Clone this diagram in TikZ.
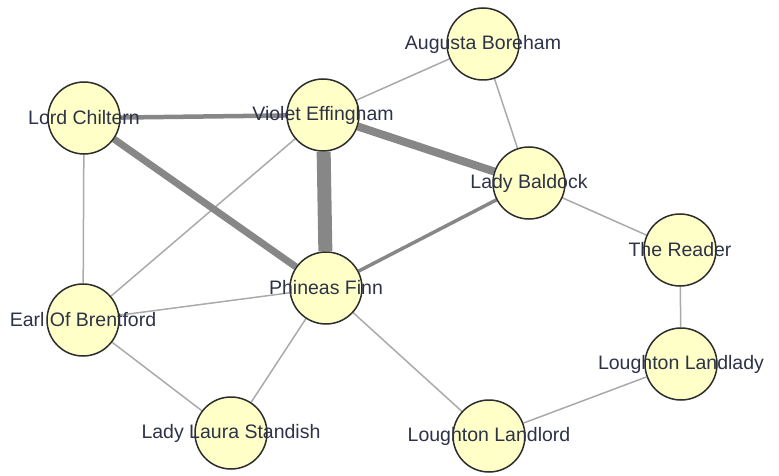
\documentclass[tikz,border=0pt]{standalone}
\usepackage{fontspec}
\setmainfont{Liberation Sans}
\usetikzlibrary{backgrounds}
\definecolor{nodefill}{RGB}{255,255,200}
\definecolor{nodeline}{RGB}{45,45,45}
\definecolor{labelcol}{RGB}{45,50,72}
\definecolor{thinedge}{RGB}{170,170,170}
\definecolor{heavyedge}{RGB}{135,135,135}
\tikzset{
  person/.style={circle, draw=nodeline, fill=nodefill, line width=1.5pt, minimum size=72pt, inner sep=0pt},
  castlabel/.style={text=labelcol, font=\fontsize{19.5}{22}\selectfont, inner sep=0pt},
  tie/.style={draw=thinedge, line width=1.5pt},
  bond/.style={draw=heavyedge, line width=#1},
}
\begin{document}
\begin{tikzpicture}[x=1pt,y=-1pt]
\useasboundingbox (0,0) rectangle (779,476);

% characters
\node[person] (ab) at (483,44) {};
\node[person] (ve) at (323,115) {};
\node[person] (lc) at (84,118) {};
\node[person] (lb) at (529,183) {};
\node[person] (tr) at (680,250) {};
\node[person] (pf) at (326,288) {};
\node[person] (eb) at (83,320) {};
\node[person] (ly) at (681,364) {};
\node[person] (ls) at (231,433) {};
\node[person] (ll) at (489,436) {};

% relationships, weighted by line width
\begin{pgfonlayer}{background}
\draw[tie] (ab) -- (ve);
\draw[tie] (ab) -- (lb);
\draw[tie] (lc) -- (eb);
\draw[tie] (ve) -- (eb);
\draw[tie] (eb) -- (pf);
\draw[tie] (eb) -- (ls);
\draw[tie] (pf) -- (ls);
\draw[tie] (pf) -- (ll);
\draw[tie] (ll) -- (ly);
\draw[tie] (ly) -- (tr);
\draw[tie] (lb) -- (tr);
\draw[bond=4.5pt] (lc) -- (ve);
\draw[bond=3.5pt] (pf) -- (lb);
\draw[bond=7pt] (lc) -- (pf);
\draw[bond=8pt] (ve) -- (lb);
\draw[bond=14pt] (ve) -- (pf);
\end{pgfonlayer}

% labels
\node[castlabel] (abt) at (ab) {Augusta Boreham};
\node[castlabel] (vet) at (ve) {Violet Effingham};
\node[castlabel] (lct) at (lc) {Lord Chiltern};
\node[castlabel] (lbt) at (lb) {Lady Baldock};
\node[castlabel] (trt) at (tr) {The Reader};
\node[castlabel] (pft) at (pf) {Phineas Finn};
\node[castlabel] (ebt) at (eb) {Earl Of Brentford};
\node[castlabel] (lyt) at (ly) {Loughton Landlady};
\node[castlabel] (lst) at (ls) {Lady Laura Standish};
\node[castlabel] (llt) at (ll) {Loughton Landlord};
\end{tikzpicture}
\end{document}
